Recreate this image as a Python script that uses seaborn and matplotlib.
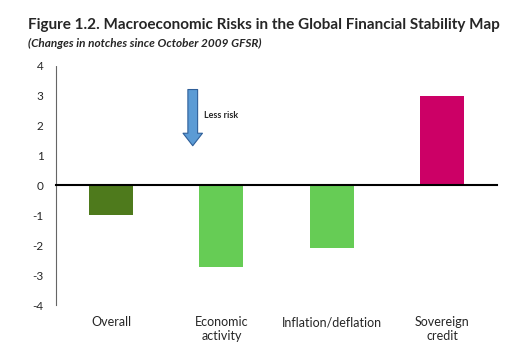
import matplotlib
matplotlib.use("Agg")
import matplotlib.pyplot as plt
import seaborn as sb

categories = ["Overall", "Economic\nactivity", "Inflation/deflation", "Sovereign\ncredit"]
changes = [-1.0, -2.72, -2.1, 2.97]
bar_colors = ["#4e7a1c", "#66cc55", "#66cc55", "#cc0066"]
y_ticks = [-4, -3, -2, -1, 0, 1, 2, 3, 4]

sb.set_style("white")
plt.rcParams["font.family"] = ["Lato", "DejaVu Sans"]

fig = plt.figure(figsize=(5.22, 3.64), dpi=100)
ax = fig.add_axes([0.1073, 0.162, 0.845, 0.659])

sb.barplot(x=categories, y=changes, hue=categories, palette=bar_colors,
           width=0.4, legend=False, linewidth=0, saturation=1, ax=ax)

ax.set_ylim(-4, 4)
ax.set_xlim(-0.5, 3.5)
ax.set_yticks(y_ticks)
ax.set_yticklabels([str(t) for t in y_ticks], fontsize=8.5)
ax.tick_params(axis="y", direction="out", length=3, width=0.8, color="#555555", pad=6)

# zero line with ticks between categories
ax.spines["bottom"].set_position(("data", 0))
ax.spines["bottom"].set_color("black")
ax.spines["bottom"].set_linewidth(1.5)
ax.set_xticks([-0.5, 0.5, 1.5, 2.5, 3.5])
ax.set_xticklabels([])
ax.tick_params(axis="x", direction="out", length=4, width=1.2, color="black")

ax.spines["left"].set_color("#666666")
ax.spines["left"].set_linestyle((0, (1, 1)))
ax.spines["left"].set_linewidth(0.8)
ax.spines["top"].set_visible(False)
ax.spines["right"].set_visible(False)
ax.set_xlabel("")
ax.set_ylabel("")

# category labels below the plot
sec = ax.secondary_xaxis(0)
sec.set_xticks(range(len(categories)))
sec.set_xticklabels(categories, fontsize=9, linespacing=1.15, va="top")
sec.tick_params(length=0, pad=8)
sec.spines["bottom"].set_visible(False)

# "less risk" arrow
ax.annotate("", xy=(0.74, 1.22), xytext=(0.74, 3.28),
            arrowprops=dict(arrowstyle="simple,head_width=1.4,head_length=0.9,tail_width=0.7",
                            fc="#5b9bd5", ec="#2f5f99", lw=0.8))
ax.text(1.0, 2.33, "Less risk", fontsize=6.5, fontweight="bold", ha="center", va="center")

fig.text(0.054, 0.93, "Figure 1.2. Macroeconomic Risks in the Global Financial Stability Map",
         fontsize=11, fontweight="bold", ha="left", va="center")
fig.text(0.054, 0.88, "(Changes in notches since October 2009 GFSR)",
         fontsize=8.5, fontweight="bold", fontstyle="italic", ha="left", va="center")

fig.savefig("out.png", dpi=100)
